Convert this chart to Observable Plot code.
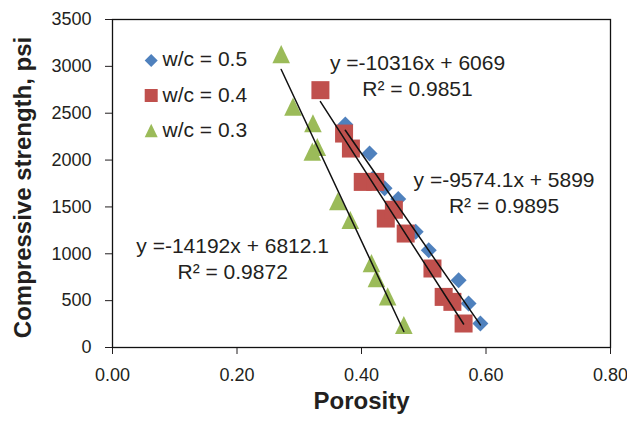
<!DOCTYPE html>
<html><head><meta charset="utf-8">
<script src="https://cdn.jsdelivr.net/npm/d3@7"></script>
<script src="https://cdn.jsdelivr.net/npm/@observablehq/plot@0.6"></script>
<style>
body{margin:0;background:#fff;}
#chart svg{font-family:"Liberation Sans",Arial,Helvetica,sans-serif;}
</style>
</head><body><div id="chart"></div>
<script>
// ---- data ----
const seriesNames = ["w/c = 0.5", "w/c = 0.4", "w/c = 0.3"];
const porosity05 = [0.374, 0.413, 0.418, 0.437, 0.459, 0.487, 0.508, 0.556, 0.572, 0.591];
const strength05 = [2380, 2070, 1800, 1700, 1585, 1234, 1038, 718, 469, 256];
const porosity04 = [0.334, 0.372, 0.383, 0.402, 0.422, 0.439, 0.452, 0.471, 0.514, 0.532, 0.546, 0.564];
const strength04 = [2746, 2283, 2123, 1767, 1767, 1376, 1470, 1216, 843, 540, 487, 256];
const porosity03 = [0.271, 0.290, 0.322, 0.321, 0.329, 0.362, 0.382, 0.416, 0.424, 0.442, 0.468];
const strength03 = [3130, 2570, 2393, 2090, 2140, 1560, 1360, 900, 740, 545, 240];
const slopes = [-9574.1, -10316, -14192];
const intercepts = [5899, 6069, 6812.1];
const slopeText = ["-9574.1", "-10316", "-14192"];
const interceptText = ["5899", "6069", "6812.1"];
const r2Text = ["0.9895", "0.9851", "0.9872"];
const xTicks = [0, 0.2, 0.4, 0.6, 0.8];
const yTicks = [0, 500, 1000, 1500, 2000, 2500, 3000, 3500];
const colors = ["#4f81bd", "#c0504d", "#9bbb59"];

// ---- symbols ----
const diamondSym = {draw(ctx, size){ const r = Math.sqrt(size/Math.PI); ctx.moveTo(0,-r); ctx.lineTo(r,0); ctx.lineTo(0,r); ctx.lineTo(-r,0); ctx.closePath(); }};
const squareSym = {draw(ctx, size){ const r = Math.sqrt(size/Math.PI); ctx.rect(-r,-r,2*r,2*r); }};
const triangleSym = {draw(ctx, size){ const r = Math.sqrt(size/Math.PI); const h = r*1.03; ctx.moveTo(0,-h); ctx.lineTo(r,h); ctx.lineTo(-r,h); ctx.closePath(); }};
const symbols = [diamondSym, squareSym, triangleSym];
const sizes = [8, 9, 8.8];

const xs = [porosity05, porosity04, porosity03];
const ys = [strength05, strength04, strength03];
const pts = xs.map((arr, i) => arr.map((x, j) => ({x, y: ys[i][j], s: i})));

const trend = [];
xs.forEach((arr, i) => {
  const lo = d3.min(arr), hi = d3.max(arr);
  [lo, hi].forEach(x => trend.push({s: i, x, y: slopes[i]*x + intercepts[i]}));
});
const eqText = slopeText.map((s, i) => `y =${s}x + ${interceptText[i]}\nR² = ${r2Text[i]}`);

const txtColor = "#231f20";
const marks = [Plot.frame({stroke: "#111", strokeWidth: 1.3})];
pts.forEach((d, i) => marks.push(Plot.dot(d, {x: "x", y: "y", symbol: () => symbols[i], r: sizes[i], fill: colors[i], stroke: "none"})));
marks.push(Plot.line(trend, {x: "x", y: "y", z: "s", stroke: "#111", strokeWidth: 1.5}));
marks.push(Plot.text([eqText[1]], {x: [0.490], y: [2908], text: d => d, fontSize: 21, lineHeight: 1.24, textAnchor: "middle", lineAnchor: "middle", fill: txtColor}));
marks.push(Plot.text([eqText[0]], {x: [0.629], y: [1668], text: d => d, fontSize: 21, lineHeight: 1.24, textAnchor: "middle", lineAnchor: "middle", fill: txtColor}));
marks.push(Plot.text([eqText[2]], {x: [0.193], y: [958], text: d => d, fontSize: 21, lineHeight: 1.24, textAnchor: "middle", lineAnchor: "middle", fill: txtColor}));
// legend
const legendSizes = [6.5, 6.5, 6.5];
seriesNames.forEach((name, i) => {
  marks.push(Plot.dot([name], {frameAnchor: "top-left", dx: 38.7, dy: 41 + 35*i, symbol: () => symbols[i], r: legendSizes[i], fill: colors[i], stroke: "none"}));
  marks.push(Plot.text([name], {frameAnchor: "top-left", dx: 50, dy: 40 + 35.5*i, text: d => d, fontSize: 21, textAnchor: "start", lineAnchor: "middle", fill: txtColor}));
});
// axis titles
marks.push(Plot.text(["Porosity"], {frameAnchor: "bottom", dy: 61, text: d => d, fontSize: 24, fontWeight: "bold", textAnchor: "middle", lineAnchor: "bottom", fill: txtColor}));
marks.push(Plot.text(["Compressive strength, psi"], {frameAnchor: "left", dx: -89, dy: 4, rotate: -90, text: d => d, fontSize: 24, fontWeight: "bold", textAnchor: "middle", lineAnchor: "middle", fill: txtColor}));

const chart = Plot.plot({
  width: 627, height: 421,
  marginLeft: 112, marginRight: 17, marginTop: 19, marginBottom: 74,
  style: {fontSize: "18px", color: txtColor, background: "white", fontFamily: '"Liberation Sans", Arial, sans-serif'},
  x: {domain: [0, 0.8], ticks: xTicks, tickFormat: d3.format(".2f"), tickSize: 7, tickPadding: 14, label: null},
  y: {domain: [0, 3500], ticks: yTicks, tickFormat: d3.format("d"), tickSize: 7, tickPadding: 14, label: null},
  marks
});
document.getElementById("chart").appendChild(chart);
</script>
</body></html>
